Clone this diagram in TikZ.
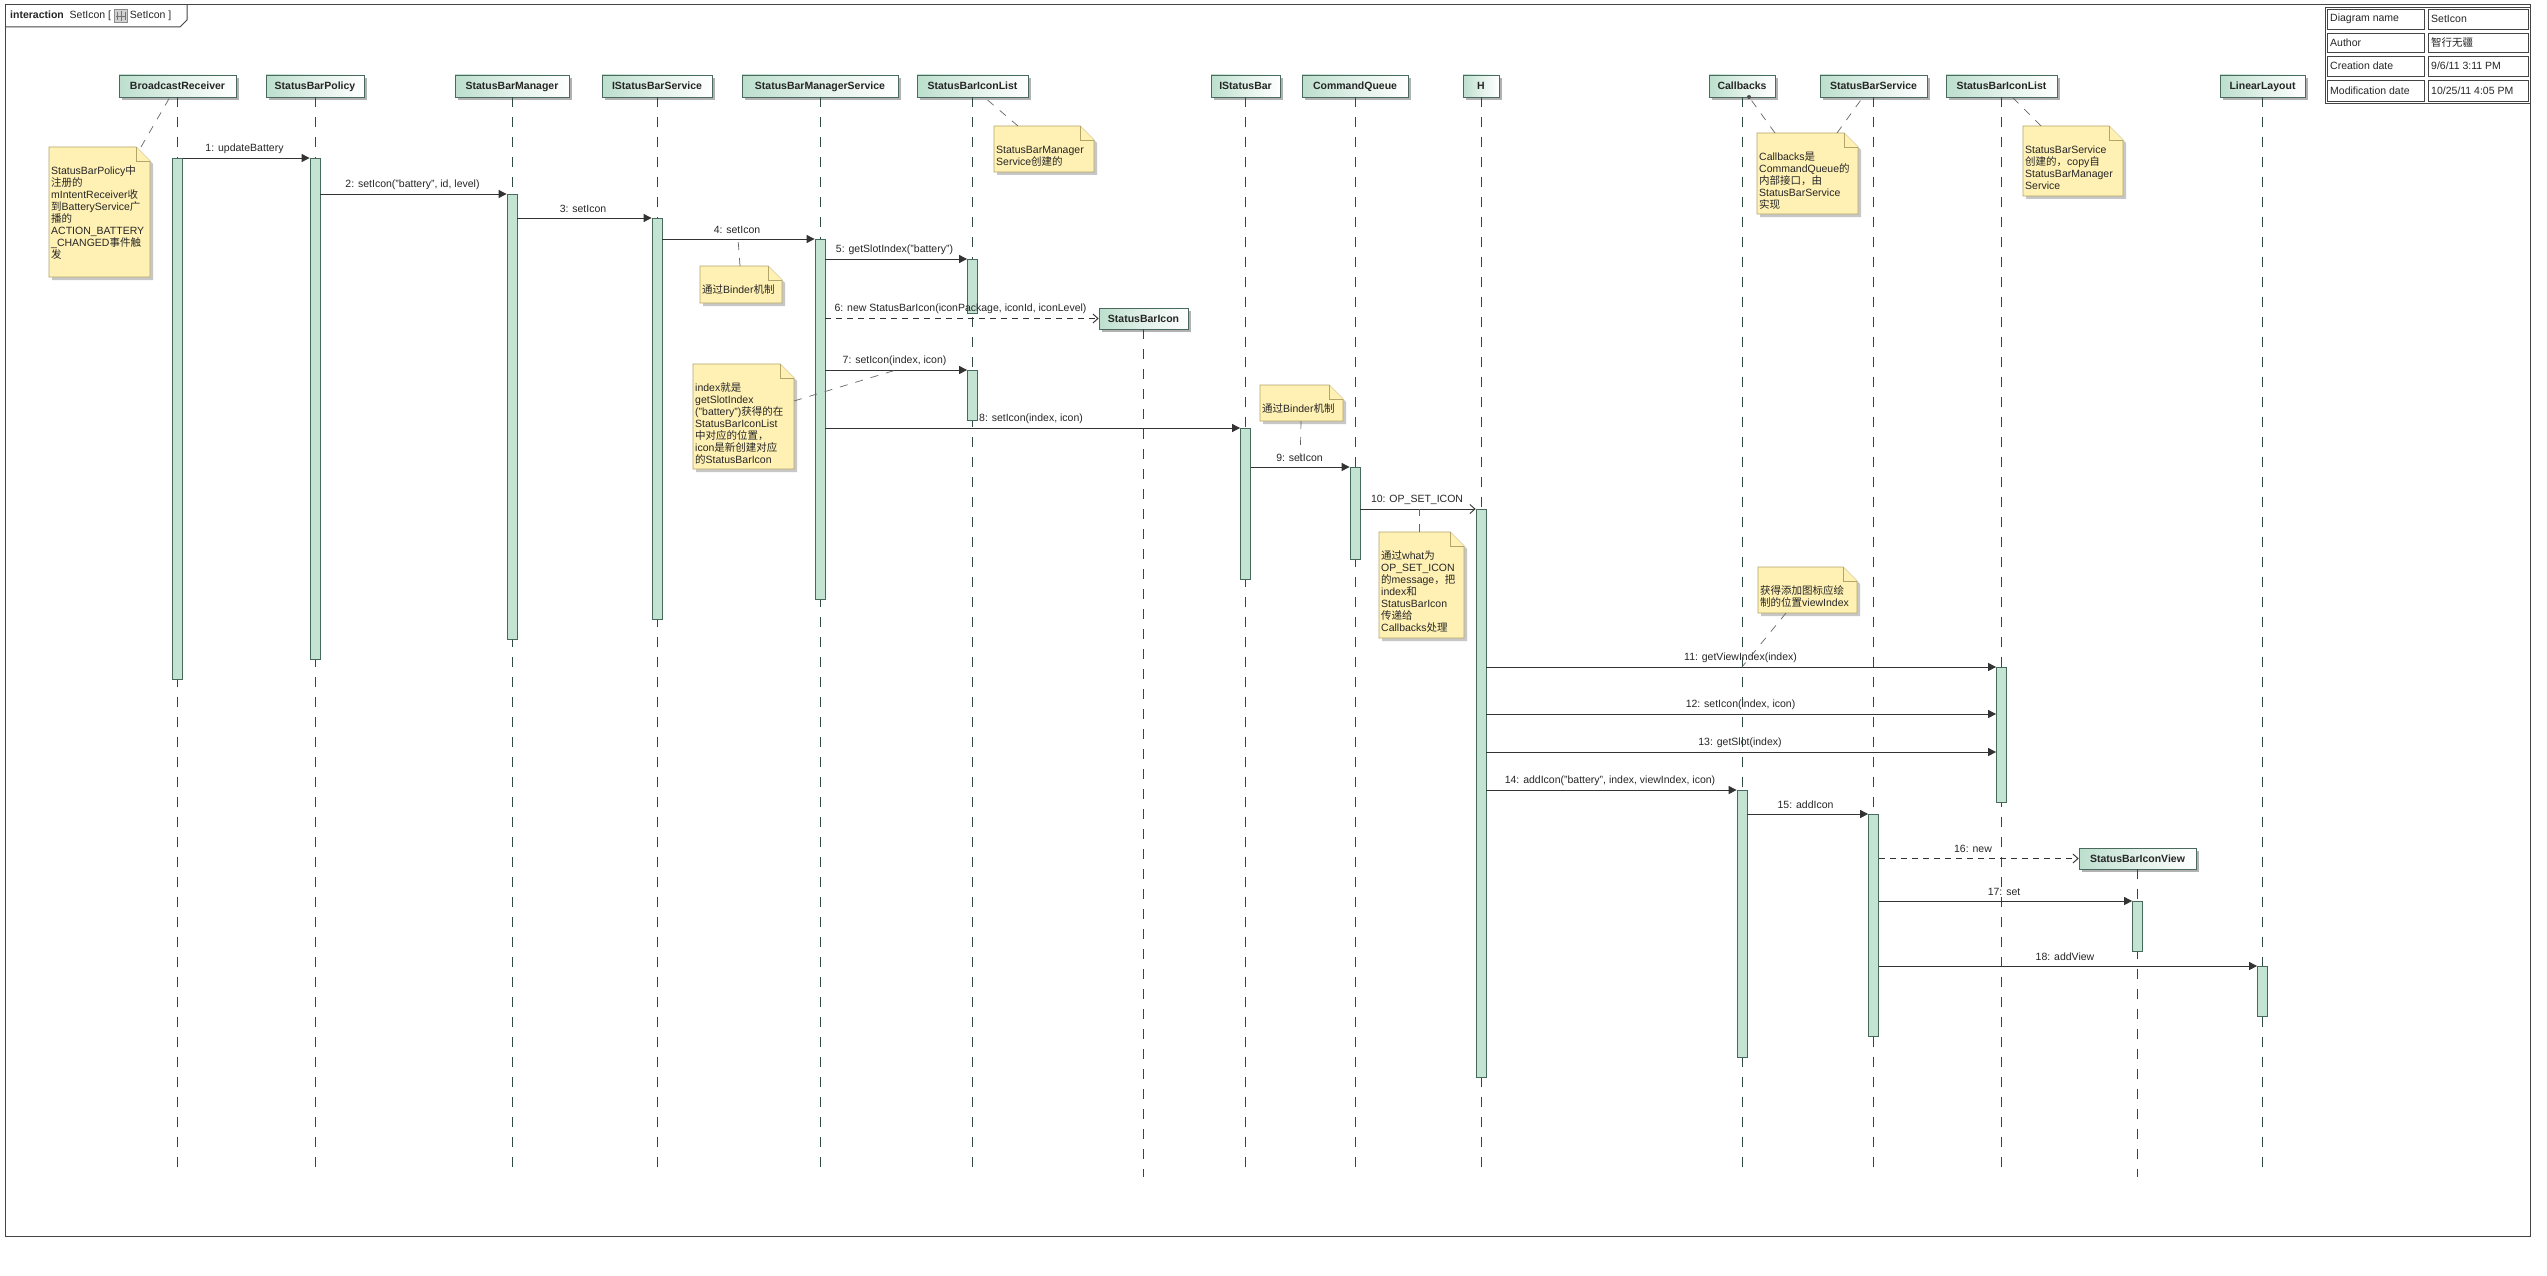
\documentclass[tikz,border=0pt]{standalone}
\usepackage{fontspec}
\setmainfont{Liberation Sans}
\newfontfamily\cjkfont{Noto Sans CJK SC}
\newcommand\zh[1]{{\cjkfont #1}}
\usetikzlibrary{arrows.meta,shadows,calc}
\definecolor{frameC}{HTML}{444444}
\definecolor{lineC}{HTML}{2F4A44}
\definecolor{actF}{HTML}{C3E3D3}
\definecolor{actB}{HTML}{46695C}
\definecolor{hdrL}{HTML}{BCDFCD}
\definecolor{hdrB}{HTML}{4A6A60}
\definecolor{noteF}{HTML}{FFF1B4}
\definecolor{noteB}{HTML}{B3A56A}
\definecolor{msgC}{HTML}{333333}
\definecolor{linkC}{HTML}{666666}
\tikzset{
 hdr/.style={draw=hdrB, line width=0.8pt, left color=hdrL, right color=white, middle color=hdrL!45, minimum height=22pt, inner sep=0pt,
   text height=7.6pt, text depth=0pt,
   font=\fontsize{10.5}{12}\selectfont\bfseries, text=black!85,
   drop shadow={shadow xshift=3pt, shadow yshift=-3pt, fill=black!30, opacity=1}},
 lifeln/.style={draw=lineC, line width=0.7pt, dash pattern=on 10pt off 10pt},
 actbar/.style={draw=actB, fill=actF, line width=0.8pt, minimum width=10pt, inner sep=0pt, anchor=north},
 msg/.style={draw=msgC, line width=0.9pt, -{Triangle[length=8pt,width=8pt]}},
 amsg/.style={draw=msgC, line width=0.9pt, -{Straight Barb[length=5pt,width=9pt]}},
 cmsg/.style={draw=msgC, line width=0.9pt, dash pattern=on 6pt off 5pt, -{Straight Barb[length=5pt,width=9pt]}},
 lbl/.style={font=\fontsize{10.5}{12}\selectfont, inner sep=0pt, text=black!85},
 notelink/.style={draw=linkC, line width=0.7pt, dash pattern=on 8pt off 8pt},
 notebody/.style={draw=noteB, fill=noteF, line width=0.8pt},
 noteshadow/.style={fill=black!22},
 notetxt/.style={font=\fontsize{10.5}{12}\selectfont, inner sep=0pt, anchor=base west, text=black!85},
 celltxt/.style={font=\fontsize{10.5}{12}\selectfont, inner sep=0pt, anchor=west, text=black!85},
}
% name, x1, y1, x2, y2, text
\newcommand\umlnote[6]{%
 \fill[noteshadow] (#2+3,#3+3) -- (#4-14+3,#3+3) -- (#4+3,#3+14+3) -- (#4+3,#5+3) -- (#2+3,#5+3) -- cycle;
 \draw[notebody] (#2,#3) -- (#4-14,#3) -- (#4,#3+14) -- (#4,#5) -- (#2,#5) -- cycle;
 \draw[notebody] (#4-14,#3) -- (#4-14,#3+14) -- (#4,#3+14);
 \node[notetxt] (#1) at (#2+2,#3+27.5) {\parbox[t]{120pt}{\raggedright #6}};
}
\begin{document}
\begin{tikzpicture}[x=1pt,y=-1pt]
\useasboundingbox (0,0) rectangle (2547,1276);
\fill[white] (0,0) rectangle (2547,1276);

% frame
\draw[frameC, line width=1pt] (5,5) rectangle (2530,1236);
\draw[frameC, line width=1pt] (5,27) -- (180,27) -- (187,20) -- (187,5);
\node[lbl, anchor=west] (ttl) at (10,16) {\textbf{interaction}\ \ SetIcon [};
\node[draw=black!45, fill=black!18, minimum width=13pt, minimum height=13pt, inner sep=0pt, anchor=west] (ticon) at ($(ttl.east)+(3,0)$) {};
\draw[black!55, line width=0.6pt] ($(ticon.center)+(-4,-4)$) -- ++(0,8) ($(ticon.center)+(0,-5)$) -- ++(0,10) ($(ticon.center)+(4,-4)$) -- ++(0,8) ($(ticon.center)+(-5,0)$) -- ++(10,0);
\node[lbl, anchor=west] (ttl2) at ($(ticon.east)+(2,0)$) {SetIcon ]};

% info table
\draw[frameC, line width=0.8pt] (2325,7) rectangle (2530,103);
\foreach \ya/\yb in {7/31, 31/54, 54/78, 78/103}{
  \draw[frameC, line width=0.7pt] (2327,\ya+2) rectangle (2424,\yb-2);
  \draw[frameC, line width=0.7pt] (2428,\ya+2) rectangle (2528,\yb-2);
}
\node[celltxt] (c11) at (2330,19) {Diagram name};
\node[celltxt] (c12) at (2431,19) {SetIcon};
\node[celltxt] (c21) at (2330,42.5) {Author};
\node[celltxt] (c22) at (2431,42.5) {\zh{智行无疆}};
\node[celltxt] (c31) at (2330,66) {Creation date};
\node[celltxt] (c32) at (2431,66) {9/6/11 3:11 PM};
\node[celltxt] (c41) at (2330,90.5) {Modification date};
\node[celltxt] (c42) at (2431,90.5) {10/25/11 4:05 PM};

% lifeline heads
\node[hdr, minimum width=117pt] (br) at (177.5,86) {BroadcastReceiver};
\node[hdr, minimum width=98pt] (sbp) at (315,86) {StatusBarPolicy};
\node[hdr, minimum width=114pt] (sbm) at (512,86) {StatusBarManager};
\node[hdr, minimum width=110pt] (isbs) at (657,86) {IStatusBarService};
\node[hdr, minimum width=156pt] (sbms) at (820,86) {StatusBarManagerService};
\node[hdr, minimum width=111pt] (sbil) at (972.5,86) {StatusBarIconList};
\node[hdr, minimum width=69pt] (isb) at (1245.5,86) {IStatusBar};
\node[hdr, minimum width=106pt] (cq) at (1355,86) {CommandQueue};
\node[hdr, minimum width=36pt] (hh) at (1481,86) {H};
\node[hdr, minimum width=66pt] (cb) at (1742,86) {Callbacks};
\node[hdr, minimum width=107pt] (sbs) at (1873.5,86) {StatusBarService};
\node[hdr, minimum width=111pt] (sbil2) at (2001.5,86) {StatusBarIconList};
\node[hdr, minimum width=85pt] (ll) at (2262.5,86) {LinearLayout};
\node[hdr, minimum width=89pt, minimum height=21pt] (sbi) at (1143.5,318.5) {StatusBarIcon};
\node[hdr, minimum width=117pt, minimum height=21pt] (sbiv) at (2137.5,858.5) {StatusBarIconView};

% lifelines
\coordinate (bot) at (0,1168);
\coordinate (bot2) at (0,1177);
\foreach \n in {br,sbp,sbm,isbs,sbms,sbil,isb,cq,hh,cb,sbs,sbil2,ll}{
  \draw[lifeln] (\n.south) -- (\n.south |- bot);
}
\draw[lifeln] (sbi.south) -- (sbi.south |- bot2);
\draw[lifeln] (sbiv.south) -- (sbiv.south |- bot2);

% activations
\node[actbar, minimum height=521pt] (aBR) at (177.5,158) {};
\node[actbar, minimum height=501pt] (aSBP) at (315,158) {};
\node[actbar, minimum height=445pt] (aSBM) at (512,194) {};
\node[actbar, minimum height=401pt] (aISBS) at (657,218) {};
\node[actbar, minimum height=360pt] (aSBMS) at (820,239) {};
\node[actbar, minimum height=54pt] (aSBIL1) at (972.5,259) {};
\node[actbar, minimum height=50pt] (aSBIL2) at (972.5,370) {};
\node[actbar, minimum height=151pt] (aISB) at (1245.5,428) {};
\node[actbar, minimum height=92pt] (aCQ) at (1355,467) {};
\node[actbar, minimum height=568pt] (aH) at (1481,509) {};
\node[actbar, minimum height=135pt] (aSBIL3) at (2001.5,667) {};
\node[actbar, minimum height=267pt] (aCB) at (1742,790) {};
\node[actbar, minimum height=222pt] (aSBS) at (1873.5,814) {};
\node[actbar, minimum height=50pt] (aSBIV) at (2137.5,901) {};
\node[actbar, minimum height=50pt] (aLL) at (2262.5,966) {};

% messages
\draw[msg] (aBR.north east) -- (aSBP.north west);
\draw[msg] (aSBP.east |- aSBM.north) -- (aSBM.north west);
\draw[msg] (aSBM.east |- aISBS.north) -- (aISBS.north west);
\draw[msg] (aISBS.east |- aSBMS.north) -- (aSBMS.north west);
\draw[msg] (aSBMS.east |- aSBIL1.north) -- (aSBIL1.north west);
\draw[cmsg] (aSBMS.east |- sbi.west) -- (sbi.west);
\draw[msg] (aSBMS.east |- aSBIL2.north) -- (aSBIL2.north west);
\draw[msg] (aSBMS.east |- aISB.north) -- (aISB.north west);
\draw[msg] (aISB.east |- aCQ.north) -- (aCQ.north west);
\draw[amsg] (aCQ.east |- aH.north) -- (aH.north west);
\draw[msg] (aH.east |- aSBIL3.north) -- (aSBIL3.north west);
\coordinate (y12) at (0,714);
\coordinate (y13) at (0,752);
\draw[msg] (aH.east |- y12) -- (aSBIL3.west |- y12);
\draw[msg] (aH.east |- y13) -- (aSBIL3.west |- y13);
\draw[msg] (aH.east |- aCB.north) -- (aCB.north west);
\draw[msg] (aCB.east |- aSBS.north) -- (aSBS.north west);
\draw[cmsg] (aSBS.east |- sbiv.west) -- (sbiv.west);
\draw[msg] (aSBS.east |- aSBIV.north) -- (aSBIV.north west);
\draw[msg] (aSBS.east |- aLL.north) -- (aLL.north west);

% message labels
\node[lbl] (l1) at (244.5,149) {1: updateBattery};
\node[lbl] (l2) at (412.5,185) {2: setIcon("battery", id, level)};
\node[lbl] (l3) at (583,209) {3: setIcon};
\node[lbl] (l4) at (737,230) {4: setIcon};
\node[lbl] (l5) at (894.5,250) {5: getSlotIndex("battery")};
\node[lbl] (l6) at (960.5,309) {6: new StatusBarIcon(iconPackage, iconId, iconLevel)};
\node[lbl] (l7) at (894.5,361) {7: setIcon(index, icon)};
\node[lbl] (l8) at (1031,419) {8: setIcon(index, icon)};
\node[lbl] (l9) at (1299.5,458) {9: setIcon};
\node[lbl] (l10) at (1417,500) {10: OP\_SET\_ICON};
\node[lbl] (l11) at (1740.5,658) {11: getViewIndex(index)};
\node[lbl] (l12) at (1740.5,705) {12: setIcon(index, icon)};
\node[lbl] (l13) at (1740,743) {13: getSlot(index)};
\node[lbl] (l14) at (1610,781) {14: addIcon("battery", index, viewIndex, icon)};
\node[lbl] (l15) at (1805.5,805) {15: addIcon};
\node[lbl] (l16) at (1973,849) {16: new};
\node[lbl] (l17) at (2004,892) {17: set};
\node[lbl] (l18) at (2065,957) {18: addView};

% notes
\umlnote{n1}{49}{147}{150}{277}{StatusBarPolicy\zh{中}\\\zh{注册的}\\mIntentReceiver\zh{收}\\\zh{到}BatteryService\zh{广}\\\zh{播的}\\ACTION\_BATTERY\\\_CHANGED\zh{事件触}\\\zh{发}}
\umlnote{n2}{700}{266}{782}{303}{\zh{通过}Binder\zh{机制}}
\umlnote{n3}{994}{126}{1094}{172}{StatusBarManager\\Service\zh{创建的}}
\umlnote{n4}{693}{364}{794}{469}{index\zh{就是}\\getSlotIndex\\("battery")\zh{获得的在}\\StatusBarIconList\\\zh{中对应的位置，}\\icon\zh{是新创建对应}\\\zh{的}StatusBarIcon}
\umlnote{n5}{1260}{385}{1343}{421}{\zh{通过}Binder\zh{机制}}
\umlnote{n6}{1379}{532}{1464}{638}{\zh{通过}what\zh{为}\\OP\_SET\_ICON\\\zh{的}message\zh{，把}\\index\zh{和}\\StatusBarIcon\\\zh{传递给}\\Callbacks\zh{处理}}
\umlnote{n7}{1758}{567}{1857}{613}{\zh{获得添加图标应绘}\\\zh{制的位置}viewIndex}
\umlnote{n8}{1757}{133}{1858}{214}{Callbacks\zh{是}\\CommandQueue\zh{的}\\\zh{内部接口，由}\\StatusBarService\\\zh{实现}}
\umlnote{n9}{2023}{126}{2123}{196}{StatusBarService\\\zh{创建的，}copy\zh{自}\\StatusBarManager\\Service}

% note links
\coordinate (k1) at (141,147);   \coordinate (t1) at (170,97);
\coordinate (k2) at (740,266);   \coordinate (t2) at (738,239);
\coordinate (k3) at (1018,126);  \coordinate (t3) at (984,97);
\coordinate (k4) at (794,401);   \coordinate (t4) at (896,370);
\coordinate (k5) at (1301,421);  \coordinate (t5) at (1300,467);
\coordinate (k6) at (1419,532);  \coordinate (t6) at (1419,509);
\coordinate (k7) at (1786,613);  \coordinate (t7) at (1742,667);
\coordinate (k8) at (1775,133);  \coordinate (t8) at (1749,97);
\coordinate (k9) at (1837,133);  \coordinate (t9) at (1863,97);
\coordinate (k10) at (2041,126); \coordinate (t10) at (2012,97);
\foreach \i in {1,...,10}{ \draw[notelink] (k\i) -- (t\i); }
\fill[black!70] (t8) circle (2pt);
\end{tikzpicture}
\end{document}
